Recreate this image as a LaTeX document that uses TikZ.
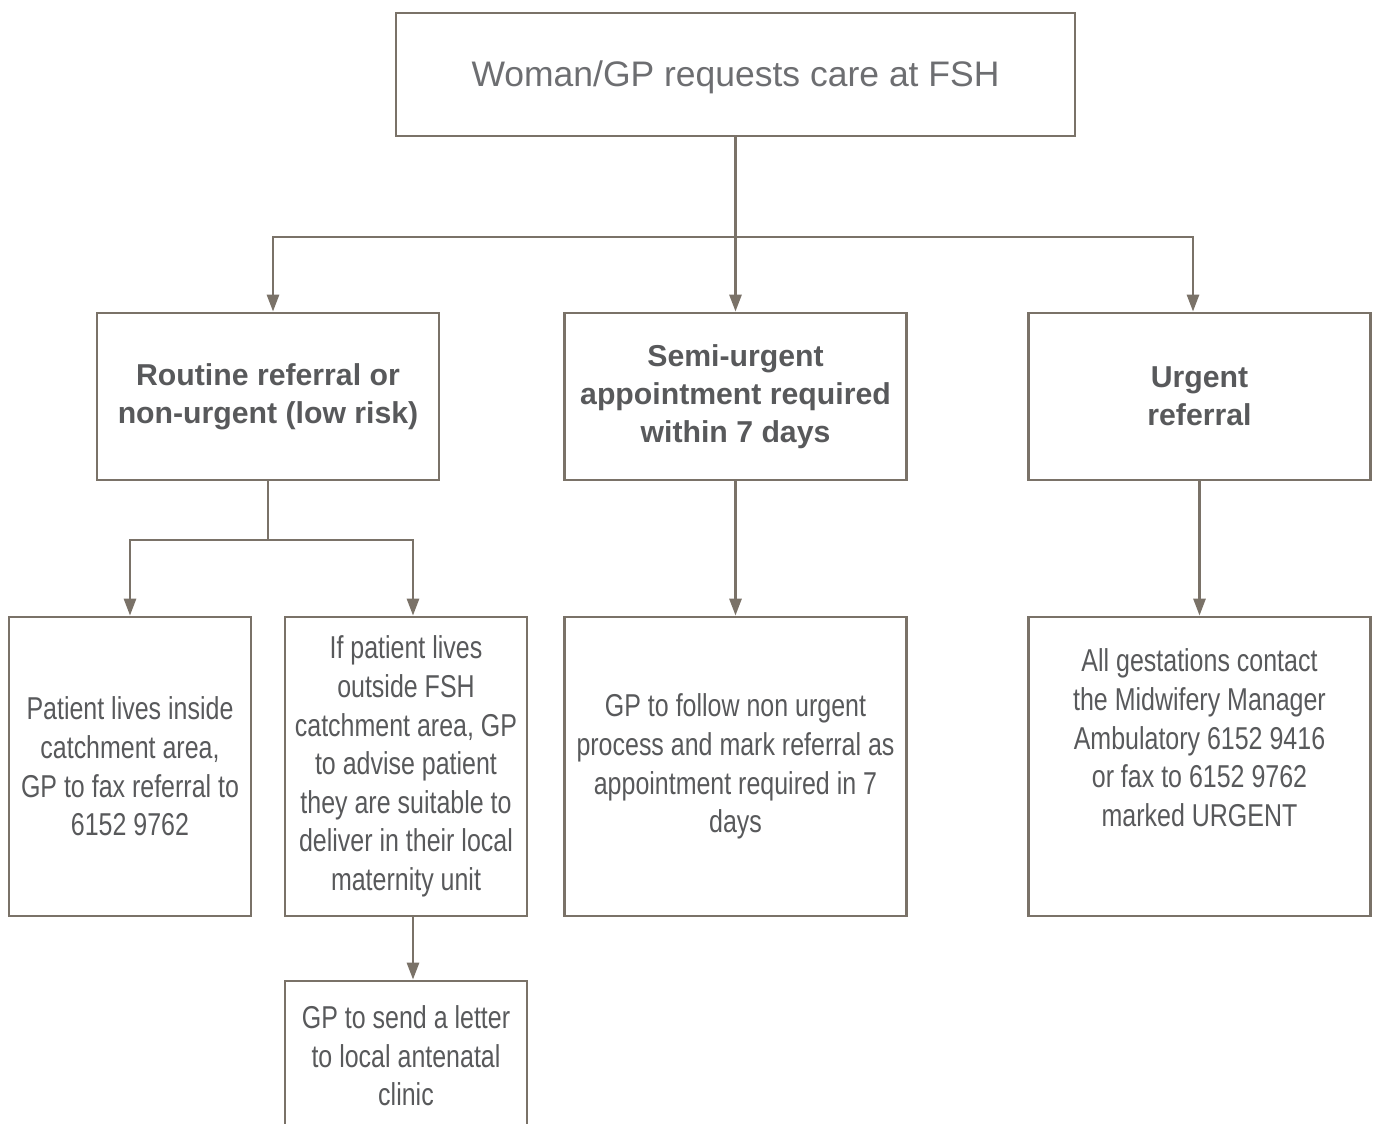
\documentclass[tikz,border=0pt]{standalone}
\usepackage{fontspec}
\setmainfont{Liberation Sans}
\newfontfamily\condfont[FakeStretch=0.79]{Liberation Sans}
\usepackage{xcolor}
\usetikzlibrary{arrows.meta, positioning}
\definecolor{linegrey}{HTML}{7A7268}
\definecolor{textgrey}{HTML}{58595B}
\definecolor{lightgrey}{HTML}{6D6E71}

\begin{document}
\begin{tikzpicture}[x=0.02cm, y=-0.02cm,
    box/.style={draw=linegrey, line width=1.6pt, inner sep=0pt, align=center, text=textgrey},
    topbox/.style={box, minimum width=13.58cm, minimum height=2.46cm, text=lightgrey, font=\fontsize{20.2}{24}\selectfont},
    midbox/.style={box, minimum width=6.84cm, minimum height=3.34cm, font=\fontsize{17.2}{21.5}\selectfont\bfseries},
    lowbox/.style={box, minimum height=5.98cm, font=\condfont\fontsize{18}{22}\selectfont},
    arrow/.style={-{Triangle[width=0.24cm, length=0.34cm]}, draw=linegrey, line width=1.6pt},
    link/.style={draw=linegrey, line width=1.6pt}
]
    \useasboundingbox (0,0) rectangle (1376,1124);

    % Request
    \node[topbox] (top) at (735.5, 74.5) {\raisebox{-0.05cm}[\height][\depth]{Woman/GP requests care at FSH}};

    % Referral types
    \node[midbox] (routine) at (268, 396.5) {Routine referral or\\non-urgent (low risk)};
    \node[midbox] (semi) at (735.5, 396.5) {Semi-urgent\\appointment required\\within 7 days};
    \node[midbox] (urgent) at (1199.5, 396.5) {Urgent\\referral};

    % Actions
    \node[lowbox, minimum width=4.84cm] (inside) at (130, 766.5) {Patient lives inside\\catchment area,\\GP to fax referral to\\6152 9762};
    \node[lowbox, minimum width=4.84cm] (outside) at (406, 766.5) {If patient lives\\outside FSH\\catchment area, GP\\to advise patient\\they are suitable to\\deliver in their local\\maternity unit};
    \node[lowbox, minimum width=6.84cm] (nonurgent) at (735.5, 766.5) {GP to follow non urgent\\process and mark referral as\\appointment required in 7\\days};
    \node[lowbox, minimum width=6.84cm] (ambulatory) at (1199.5, 766.5) {All gestations contact\\the Midwifery Manager\\Ambulatory 6152 9416\\or fax to 6152 9762\\marked URGENT\\[0.38cm]\mbox{}};
    \node[box, minimum width=4.84cm, minimum height=3cm, font=\condfont\fontsize{18}{22}\selectfont] (letter) at (406, 1056) {GP to send a letter\\to local antenatal\\clinic};

    % Connectors
    \coordinate (split1) at (735.5, 237);
    \coordinate (split2) at (268, 540);
    \draw[arrow] (top) -- (semi);
    \draw[arrow] (split1) -| ([xshift=0.1cm]routine.north);
    \draw[arrow] (split1) -| ([xshift=-0.13cm]urgent.north);
    \draw[link] (routine) -- (split2);
    \draw[arrow] (split2) -| (inside);
    \draw[arrow] (split2) -| ([xshift=0.14cm]outside.north);
    \draw[arrow] (semi) -- (nonurgent);
    \draw[arrow] (urgent) -- (ambulatory);
    \draw[arrow] ([xshift=0.14cm]outside.south) -- ([xshift=0.14cm]letter.north);
\end{tikzpicture}
\end{document}
